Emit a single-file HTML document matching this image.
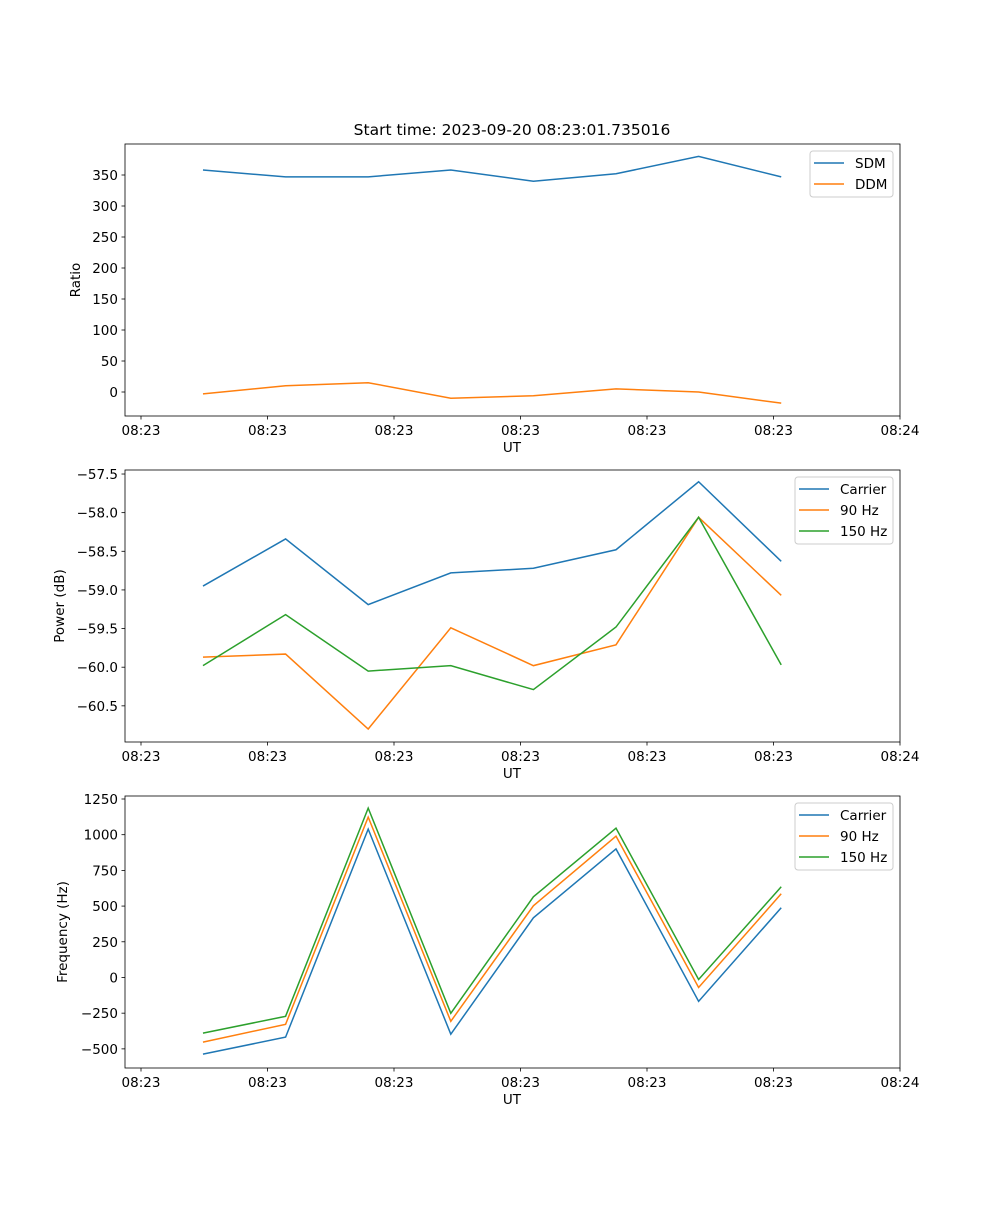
<!DOCTYPE html>
<html><head><meta charset="utf-8"><style>
body{margin:0;background:#fff}
svg text{font-family:"DejaVu Sans","Liberation Sans",sans-serif;font-size:13.5px;fill:#000}
</style></head><body>
<svg id="fig" width="1000" height="1200" xmlns="http://www.w3.org/2000/svg">
<text x="512" y="135" text-anchor="middle" font-size="15.5" style="font-size:15.5px">Start time: 2023-09-20 08:23:01.735016</text>
</svg>
<script>
const times = [4.9, 11.43, 17.96, 24.49, 31.02, 37.55, 44.08, 50.61];
const xTickVals = [0, 10, 20, 30, 40, 50, 60];
const xTickLabels = ["08:23","08:23","08:23","08:23","08:23","08:23","08:24"];
const sdm = [358, 347, 347, 358, 340, 352, 380, 347];
const ddm = [-3, 10, 15, -10, -6, 5, 0, -18];
const powCarrier = [-58.95, -58.34, -59.19, -58.78, -58.72, -58.48, -57.60, -58.63];
const pow90 = [-59.87, -59.83, -60.80, -59.49, -59.98, -59.71, -58.06, -59.07];
const pow150 = [-59.98, -59.32, -60.05, -59.98, -60.29, -59.48, -58.06, -59.97];
const freqCarrier = [-537, -418, 1039, -397, 418, 900, -167, 488];
const freq90 = [-453, -328, 1123, -307, 502, 990, -70, 586];
const freq150 = [-390, -272, 1186, -251, 565, 1046, -14, 635];
const ratioTicks = [0,50,100,150,200,250,300,350];
const powTicks = [-60.5,-60.0,-59.5,-59.0,-58.5,-58.0,-57.5];
const freqTicks = [-500,-250,0,250,500,750,1000,1250];

const NS="http://www.w3.org/2000/svg";
const svg=document.getElementById('fig');
function el(t,a,p){const e=document.createElementNS(NS,t);for(const k in a)e.setAttribute(k,a[k]);(p||svg).appendChild(e);return e;}
const X0=125,X1=900;
const xs=t=>141+(t/10)*126.5;

function panel(name,top,bot,ymin,ymax,yticks,fmt,ylabel,series,legend){
  const g=el('g',{});
  
  
  const ys=v=>bot-(v-ymin)/(ymax-ymin)*(bot-top);
  series.forEach(s=>{
    const p=el('polyline',{points:s.d.map((v,i)=>xs(times[i])+','+ys(v)).join(' '),fill:'none',stroke:s.c,'stroke-width':1.5},g);
    
    
  });
  el('rect',{x:X0,y:top,width:X1-X0,height:bot-top,fill:'none',stroke:'#000','stroke-width':0.8},g);
  xTickVals.forEach((t,i)=>{
    el('line',{x1:xs(t),x2:xs(t),y1:bot,y2:bot+3.5,stroke:'#000','stroke-width':0.8},g);
    const tx=el('text',{x:xs(t),y:bot+19,'text-anchor':'middle'},g);tx.textContent=xTickLabels[i];
    
    
  });
  yticks.forEach(v=>{
    el('line',{x1:X0,x2:X0-3.5,y1:ys(v),y2:ys(v),stroke:'#000','stroke-width':0.8},g);
    const tx=el('text',{x:X0-7,y:ys(v)+5,'text-anchor':'end'},g);tx.textContent=fmt(v).replace('-','\u2212');
    
    
  });
  const xl=el('text',{x:512,y:bot+36,'text-anchor':'middle'},g);xl.textContent='UT';
  
  
  const yc=(top+bot)/2;const lx=legend.ylx;
  const yl=el('text',{x:lx,y:yc,'text-anchor':'middle',transform:`rotate(-90 ${lx} ${yc})`},g);yl.textContent=ylabel;
  
  
  const L=el('g',{},g);
  
  
  el('rect',{x:legend.x,y:top+7,width:legend.w,height:series.length*21+4,rx:3,fill:'#fff',stroke:'#ccc','stroke-width':1},L);
  series.forEach((s,i)=>{
    const yy=top+19+i*21;
    el('line',{x1:legend.x+4,x2:legend.x+34,y1:yy,y2:yy,stroke:s.c,'stroke-width':1.5},L);
    const t=el('text',{x:legend.x+45,y:yy+5},L);t.textContent=s.n;
    
    
  });
}
const B='#1f77b4',O='#ff7f0e',G='#2ca02c';
panel('ratio',144,416,-38.7,400,ratioTicks,v=>String(v),'Ratio',[{n:'SDM',d:sdm,c:B},{n:'DDM',d:ddm,c:O}],{x:810,w:83,ylx:80});
panel('power',470,742,-60.968,-57.448,powTicks,v=>v.toFixed(1),'Power (dB)',[{n:'Carrier',d:powCarrier,c:B},{n:'90 Hz',d:pow90,c:O},{n:'150 Hz',d:pow150,c:G}],{x:795,w:98,ylx:64});
panel('frequency',796,1068,-634,1271,freqTicks,v=>String(v),'Frequency (Hz)',[{n:'Carrier',d:freqCarrier,c:B},{n:'90 Hz',d:freq90,c:O},{n:'150 Hz',d:freq150,c:G}],{x:795,w:98,ylx:67});
</script>
</body></html>
